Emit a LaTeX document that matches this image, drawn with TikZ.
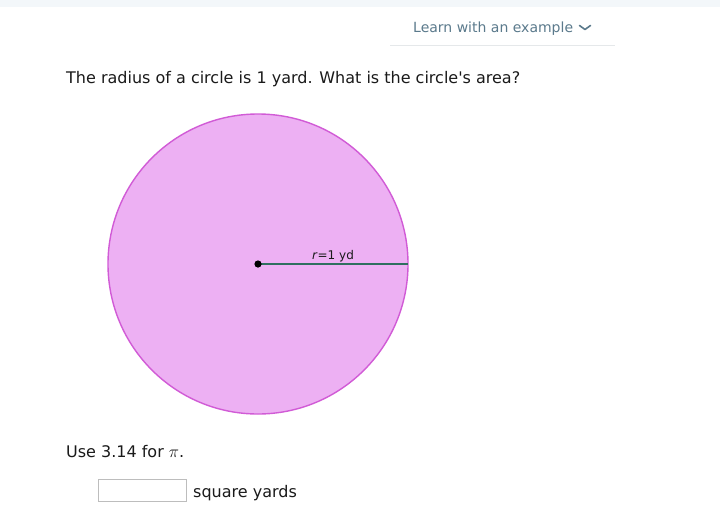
\documentclass[tikz,border=0pt]{standalone}
\usepackage{fontspec}
\setmainfont{DejaVu Sans}[Ligatures=TeXOff]
\definecolor{topbar}{HTML}{F3F7FA}
\definecolor{linkcol}{HTML}{5B7A8C}
\definecolor{rulecol}{HTML}{E5E8EA}
\definecolor{circfill}{HTML}{EDB0F3}
\definecolor{circdraw}{HTML}{D15BD6}
\definecolor{radcol}{HTML}{2F6F5F}
\definecolor{boxcol}{HTML}{BDBDBD}
\definecolor{textcol}{HTML}{1A1A1A}
\begin{document}
\begin{tikzpicture}[x=1pt,y=-1pt,
  maintext/.style={anchor=base west,inner sep=0pt,font=\fontsize{16}{19}\selectfont,text=textcol}]
\useasboundingbox (0,0) rectangle (720,504);
\fill[white] (0,0) rectangle (720,504);
\fill[topbar] (0,0) rectangle (720,7);
% link
\node[anchor=base west,inner sep=0pt,font=\fontsize{14}{16}\selectfont,text=linkcol] (learn) at (413,32) {Learn with an example};
\draw[linkcol,line width=1.6pt,line cap=round,line join=round] (579.5,25.5) -- (585,29.5) -- (590.5,25.5);
\draw[rulecol,line width=1pt] (390,45) -- (615,45);
% question
\node[maintext] (q) at (66,83) {The radius of a circle is 1 yard. What is the circle's area?};
% circle
\coordinate (c) at (258,264);
\coordinate (e) at (408,264);
\filldraw[fill=circfill,draw=circdraw,line width=1.4pt] (c) circle[radius=150pt];
\draw[radcol,line width=2pt] (c) -- (e);
\fill[black] (c) circle[radius=3.6pt];
\node[anchor=base,inner sep=0pt,font=\fontsize{12}{14}\selectfont,text=textcol] (lab) at (333,259) {\textit{r}=1 yd};
% use pi
\node[maintext] (use) at (66,457) {Use 3.14 for {\fontsize{18}{20}\selectfont$\pi$}.};
\node[draw=boxcol,line width=1pt,fill=white,minimum width=88pt,minimum height=22pt,inner sep=0pt,anchor=north west] (box) at (98,479) {};
\node[maintext] (sq) at (193,497) {square yards};
\end{tikzpicture}
\end{document}
